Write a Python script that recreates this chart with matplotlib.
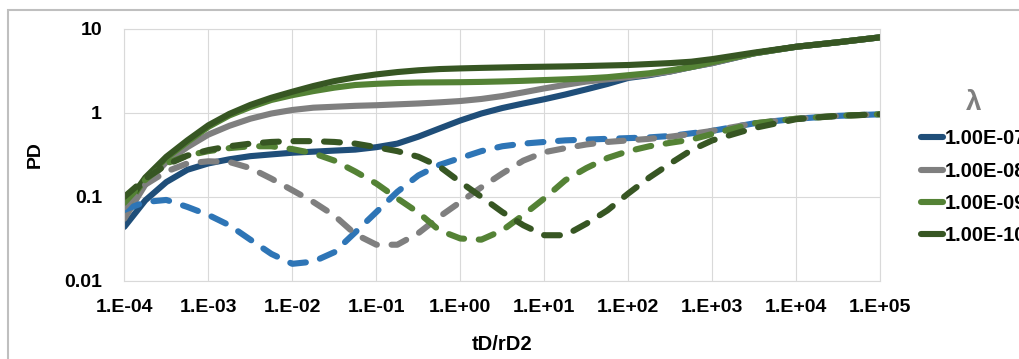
import numpy as np
import matplotlib
matplotlib.use("Agg")
from matplotlib import pyplot as plt
from matplotlib.lines import Line2D
from matplotlib.patches import Rectangle
from matplotlib.ticker import FixedLocator, FuncFormatter, NullLocator

plt.rcParams["font.family"] = ["Liberation Sans", "DejaVu Sans"]
plt.rcParams["font.weight"] = "bold"

# tD/rD2 sample points, as powers of ten
log_t = [-4, -3.75, -3.5, -3.25, -3, -2.75, -2.5, -2.25, -2, -1.75, -1.5, -1.25,
         -1, -0.75, -0.5, -0.25, 0, 0.25, 0.5, 0.75, 1, 1.25, 1.5, 1.75,
         2, 2.25, 2.5, 2.75, 3, 3.5, 4, 4.5, 5]

lambdas = ["1.00E-07", "1.00E-08", "1.00E-09", "1.00E-10"]

# PD (solid lines)
pd_1e7 = [0.044, 0.091, 0.15, 0.21, 0.25, 0.28, 0.305, 0.32, 0.335, 0.345, 0.355, 0.365,
          0.39, 0.43, 0.52, 0.65, 0.81, 0.98, 1.14, 1.29, 1.45, 1.65, 1.9, 2.2,
          2.6, 2.8, 3.1, 3.5, 3.9, 5.1, 6.1, 6.9, 7.9]
pd_1e8 = [0.055, 0.14, 0.26, 0.39, 0.55, 0.70, 0.85, 0.98, 1.08, 1.15, 1.18, 1.21,
          1.23, 1.26, 1.29, 1.33, 1.38, 1.46, 1.58, 1.75, 1.95, 2.15, 2.35, 2.5,
          2.65, 2.85, 3.1, 3.5, 3.9, 5.1, 6.1, 6.9, 7.9]
pd_1e9 = [0.07, 0.165, 0.29, 0.45, 0.68, 0.93, 1.17, 1.42, 1.62, 1.81, 1.99, 2.14,
          2.21, 2.26, 2.29, 2.3, 2.31, 2.33, 2.36, 2.4, 2.45, 2.5, 2.56, 2.65,
          2.8, 2.95, 3.2, 3.5, 4.0, 5.1, 6.1, 6.9, 7.9]
pd_1e10 = [0.076, 0.17, 0.30, 0.47, 0.71, 0.97, 1.24, 1.51, 1.78, 2.08, 2.38, 2.64,
           2.86, 3.05, 3.2, 3.31, 3.37, 3.42, 3.46, 3.5, 3.53, 3.56, 3.6, 3.65,
           3.7, 3.8, 3.9, 4.05, 4.35, 5.2, 6.1, 6.9, 7.9]

# derivative (dashed lines)
dpd_1e7 = [0.07, 0.087, 0.092, 0.076, 0.061, 0.046, 0.031, 0.021, 0.016, 0.017, 0.022, 0.038,
           0.066, 0.115, 0.18, 0.24, 0.29, 0.35, 0.40, 0.43, 0.45, 0.47, 0.48, 0.49,
           0.50, 0.51, 0.53, 0.57, 0.61, 0.75, 0.85, 0.92, 0.96]
dpd_1e8 = [0.075, 0.14, 0.20, 0.25, 0.265, 0.26, 0.22, 0.165, 0.12, 0.087, 0.06, 0.036,
           0.027, 0.027, 0.037, 0.058, 0.087, 0.13, 0.19, 0.27, 0.34, 0.38, 0.42, 0.45,
           0.47, 0.49, 0.52, 0.56, 0.61, 0.75, 0.85, 0.92, 0.96]
dpd_1e9 = [0.085, 0.16, 0.25, 0.31, 0.35, 0.38, 0.40, 0.40, 0.37, 0.33, 0.27, 0.20,
           0.144, 0.096, 0.065, 0.040, 0.032, 0.031, 0.040, 0.061, 0.096, 0.158, 0.22, 0.29,
           0.35, 0.40, 0.44, 0.48, 0.56, 0.75, 0.85, 0.92, 0.96]
dpd_1e10 = [0.1, 0.165, 0.24, 0.31, 0.36, 0.40, 0.43, 0.45, 0.46, 0.46, 0.45, 0.43,
            0.39, 0.35, 0.30, 0.23, 0.15, 0.10, 0.066, 0.046, 0.035, 0.035, 0.048, 0.069,
            0.11, 0.17, 0.25, 0.36, 0.47, 0.66, 0.84, 0.92, 0.96]

solid_colors = ["#1F4E79", "#7F7F7F", "#548235", "#375623"]
dash_colors = ["#2E75B6", "#7F7F7F", "#548235", "#375623"]

t = 10.0 ** np.array(log_t)
lw = 4.4

fig = plt.figure(figsize=(10.2, 3.59), dpi=100)
ax = fig.add_axes([0.1219, 0.2173, 0.7412, 0.7028])

for y, c in zip([pd_1e7, pd_1e8, pd_1e9, pd_1e10], solid_colors):
    ax.plot(t, y, color=c, lw=lw, solid_capstyle="round", solid_joinstyle="round")
for y, c in zip([dpd_1e7, dpd_1e8, dpd_1e9, dpd_1e10], dash_colors):
    ax.plot(t, y, color=c, lw=lw, dashes=(2.6, 2.4), dash_capstyle="round",
            dash_joinstyle="round")

ax.set_xscale("log")
ax.set_yscale("log")
ax.set_xlim(1e-4, 1e5)
ax.set_ylim(0.01, 10)
ax.xaxis.set_major_locator(FixedLocator([10.0 ** k for k in range(-4, 6)]))
ax.yaxis.set_major_locator(FixedLocator([0.01, 0.1, 1, 10]))
ax.xaxis.set_minor_locator(NullLocator())
ax.yaxis.set_minor_locator(NullLocator())
ax.xaxis.set_major_formatter(FuncFormatter(lambda v, p: f"1.E{int(round(np.log10(v))):+03d}"))
ax.yaxis.set_major_formatter(FuncFormatter(lambda v, p: f"{v:g}"))
ax.tick_params(length=0, labelsize=14)
ax.tick_params(axis="x", pad=13)
ax.tick_params(axis="y", pad=16)
ax.grid(True, color="#D9D9D9", lw=0.8)
ax.set_axisbelow(True)
for s in ax.spines.values():
    s.set_color("#D9D9D9")
    s.set_linewidth(0.8)

ax.set_xlabel("tD/rD2", fontsize=14.5, fontweight="bold")
ax.set_ylabel("PD", fontsize=14, fontweight="bold")
ax.xaxis.set_label_coords(0.5, -0.25)
ax.xaxis.label.set_va("center")
ax.yaxis.set_label_coords(-0.118, 0.5)
ax.yaxis.label.set_va("center")

handles = [Line2D([], [], color=c, lw=lw, solid_capstyle="round") for c in solid_colors]
leg = fig.legend(handles, lambdas, title="λ", loc="upper left",
                 bbox_to_anchor=(921 / 1020, 1 - 90 / 359), frameon=False,
                 borderpad=0, borderaxespad=0, handlelength=1.1, handletextpad=0.1,
                 labelspacing=0.66, fontsize=14.5,
                 title_fontproperties={"weight": "bold", "size": 20})
leg.get_title().set_color("#7F7F7F")

fig.patches.append(Rectangle((8 / 1020, -0.1), 1.2, 1.1 - 10 / 359, transform=fig.transFigure,
                             fill=False, edgecolor="#BFBFBF", lw=1.5))

fig.savefig("out.png", dpi=100)
